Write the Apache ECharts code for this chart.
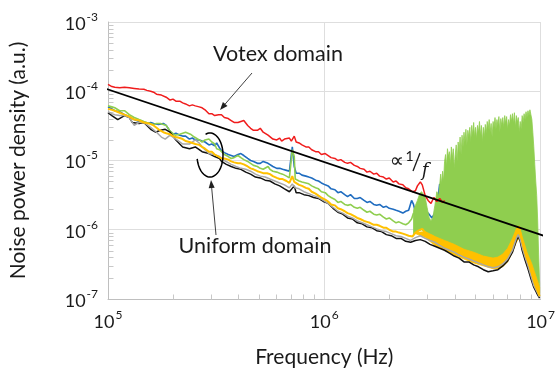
<!DOCTYPE html>
<html>
<head>
<meta charset="utf-8">
<script src="https://cdn.jsdelivr.net/npm/echarts@6.0.0/dist/echarts.min.js"></script>
<style>html,body{margin:0;padding:0;background:#fff}#c{width:558px;height:373px}</style>
</head>
<body>
<div id="c"></div>
<script>
// ---------- data ----------
const red = [[1.0e5,1.26e-4],[1.042e5,1.17e-4],[1.075e5,1.14e-4],[1.132e5,1.12e-4],[1.192e5,1.14e-4],[1.255e5,1.12e-4],[1.322e5,1.10e-4],[1.392e5,1.08e-4],[1.465e5,1.07e-4],[1.512e5,1.03e-4],[1.575e5,1.0e-4],[1.625e5,9.7e-5],[1.676e5,9.08e-5],[1.711e5,9.08e-5],[1.765e5,8.8e-5],[1.802e5,8.8e-5],[1.858e5,8.2e-5],[1.936e5,7.46e-5],[1.997e5,7.7e-5],[2.060e5,7.2e-5],[2.147e5,7.2e-5],[2.214e5,6.8e-5],[2.284e5,6.56e-5],[2.380e5,6.15e-5],[2.455e5,6.35e-5],[2.533e5,6.15e-5],[2.640e5,5.95e-5],[2.723e5,5.77e-5],[2.809e5,5.4e-5],[2.928e5,4.74e-5],[3.019e5,4.74e-5],[3.114e5,4.45e-5],[3.245e5,4.59e-5],[3.347e5,4.59e-5],[3.452e5,4.17e-5],[3.598e5,4.03e-5],[3.711e5,3.78e-5],[3.828e5,3.54e-5],[3.989e5,3.54e-5],[4.115e5,3.66e-5],[4.245e5,3.78e-5],[4.424e5,3.21e-5],[4.563e5,2.92e-5],[4.707e5,2.73e-5],[4.905e5,2.73e-5],[5.058e5,2.92e-5],[5.217e5,2.56e-5],[5.326e5,2.65e-5],[5.494e5,2.32e-5],[5.609e5,2.40e-5],[5.786e5,2.04e-5],[6.030e5,1.98e-5],[6.220e5,2.11e-5],[6.350e5,1.91e-5],[6.548e5,2.04e-5],[6.687e5,1.98e-5],[6.897e5,2.11e-5],[7.041e5,1.91e-5],[7.263e5,2.25e-5],[7.413e5,1.85e-5],[7.646e5,1.79e-5],[7.886e5,1.68e-5],[8.220e5,1.57e-5],[8.479e5,1.57e-5],[8.745e5,1.43e-5],[9.114e5,1.34e-5],[9.400e5,1.34e-5],[9.694e5,1.22e-5],[1.010e6,1.26e-5],[1.042e6,1.18e-5],[1.075e6,1.10e-5],[1.120e6,1.07e-5],[1.156e6,1.0e-5],[1.192e6,1.03e-5],[1.243e6,9.4e-6],[1.281e6,9.1e-6],[1.322e6,9.4e-6],[1.377e6,8.5e-6],[1.421e6,8.2e-6],[1.465e6,7.7e-6],[1.527e6,7.46e-6],[1.575e6,6.8e-6],[1.625e6,7.0e-6],[1.693e6,6.35e-6],[1.747e6,6.56e-6],[1.802e6,5.95e-6],[1.877e6,5.77e-6],[1.936e6,5.4e-6],[1.997e6,5.6e-6],[2.082e6,4.9e-6],[2.147e6,5.06e-6],[2.214e6,4.6e-6],[2.308e6,4.45e-6],[2.380e6,4.03e-6],[2.455e6,3.9e-6],[2.559e6,3.54e-6],[2.639e6,3.66e-6],[2.695e6,4.3e-6],[2.780e6,4.9e-6],[2.838e6,4.45e-6],[2.928e6,3.11e-6],[3.019e6,2.65e-6],[3.114e6,2.40e-6],[3.211e6,2.92e-6],[3.313e6,2.56e-6],[3.417e6,2.83e-6],[3.524e6,2.48e-6],[3.598e6,2.65e-6]];

const blue = [[1.0e5,5.95e-5],[1.042e5,5.57e-5],[1.075e5,5.23e-5],[1.132e5,5.06e-5],[1.192e5,4.59e-5],[1.255e5,4.31e-5],[1.322e5,3.9e-5],[1.392e5,3.66e-5],[1.465e5,3.54e-5],[1.512e5,3.43e-5],[1.575e5,3.54e-5],[1.625e5,3.43e-5],[1.711e5,3.32e-5],[1.802e5,3.43e-5],[1.858e5,3.21e-5],[1.936e5,2.65e-5],[1.997e5,2.40e-5],[2.060e5,2.48e-5],[2.147e5,2.32e-5],[2.214e5,2.25e-5],[2.284e5,2.25e-5],[2.380e5,2.04e-5],[2.455e5,2.11e-5],[2.533e5,1.98e-5],[2.640e5,1.98e-5],[2.723e5,1.91e-5],[2.809e5,1.85e-5],[2.928e5,1.68e-5],[3.019e5,1.73e-5],[3.114e5,1.63e-5],[3.179e5,1.79e-5],[3.279e5,1.52e-5],[3.347e5,1.38e-5],[3.452e5,1.30e-5],[3.598e5,1.22e-5],[3.711e5,1.18e-5],[3.828e5,1.14e-5],[3.989e5,1.22e-5],[4.115e5,1.26e-5],[4.245e5,1.18e-5],[4.424e5,1.07e-5],[4.563e5,1.0e-5],[4.707e5,9.7e-6],[4.905e5,9.1e-6],[5.058e5,9.1e-6],[5.217e5,9.7e-6],[5.326e5,1.0e-5],[5.494e5,9.1e-6],[5.609e5,8.8e-6],[5.786e5,8.2e-6],[6.030e5,7.7e-6],[6.220e5,7.7e-6],[6.416e5,7.46e-6],[6.687e5,7.2e-6],[6.897e5,7.0e-6],[7.041e5,6.8e-6],[7.114e5,1.57e-5],[7.263e5,8.2e-6],[7.413e5,6.56e-6],[7.646e5,6.56e-6],[7.886e5,6.15e-6],[8.220e5,5.95e-6],[8.479e5,5.77e-6],[8.745e5,5.6e-6],[9.114e5,5.2e-6],[9.400e5,5.06e-6],[9.694e5,4.74e-6],[1.010e6,4.45e-6],[1.042e6,4.3e-6],[1.075e6,3.9e-6],[1.120e6,3.78e-6],[1.156e6,3.43e-6],[1.192e6,3.54e-6],[1.243e6,3.21e-6],[1.281e6,3.01e-6],[1.322e6,3.21e-6],[1.377e6,2.83e-6],[1.421e6,2.83e-6],[1.465e6,2.92e-6],[1.527e6,2.65e-6],[1.575e6,2.48e-6],[1.625e6,2.56e-6],[1.693e6,2.32e-6],[1.747e6,2.25e-6],[1.802e6,2.32e-6],[1.877e6,2.11e-6],[1.936e6,2.18e-6],[1.997e6,2.04e-6],[2.082e6,1.98e-6],[2.147e6,1.91e-6],[2.214e6,1.85e-6],[2.308e6,1.74e-6],[2.380e6,1.85e-6],[2.455e6,1.91e-6],[2.533e6,2.65e-6],[2.585e6,2.32e-6],[2.639e6,1.79e-6],[2.723e6,1.68e-6],[2.838e6,1.63e-6],[2.928e6,1.85e-6],[3.019e6,1.74e-6],[3.145e6,1.48e-6],[3.245e6,1.74e-6],[3.313e6,2.11e-6],[3.417e6,4.6e-6]];

const green = [[1.0e5,6.15e-5],[1.042e5,5.95e-5],[1.075e5,5.77e-5],[1.132e5,5.23e-5],[1.192e5,5.23e-5],[1.217e5,5.06e-5],[1.255e5,4.59e-5],[1.281e5,4.45e-5],[1.322e5,4.17e-5],[1.392e5,3.9e-5],[1.465e5,3.66e-5],[1.512e5,3.54e-5],[1.575e5,3.43e-5],[1.625e5,3.32e-5],[1.676e5,3.43e-5],[1.747e5,3.43e-5],[1.802e5,3.32e-5],[1.858e5,3.21e-5],[1.936e5,2.65e-5],[2.039e5,2.32e-5],[2.147e5,2.40e-5],[2.284e5,2.56e-5],[2.405e5,2.40e-5],[2.507e5,2.18e-5],[2.640e5,1.98e-5],[2.723e5,1.85e-5],[2.809e5,1.98e-5],[2.928e5,2.04e-5],[3.019e5,1.85e-5],[3.114e5,1.73e-5],[3.179e5,1.48e-5],[3.279e5,1.43e-5],[3.347e5,1.48e-5],[3.452e5,1.22e-5],[3.598e5,1.14e-5],[3.711e5,1.07e-5],[3.828e5,1.10e-5],[3.989e5,1.18e-5],[4.115e5,1.10e-5],[4.245e5,1.03e-5],[4.424e5,9.7e-6],[4.563e5,9.1e-6],[4.707e5,8.5e-6],[4.905e5,8.2e-6],[5.058e5,7.7e-6],[5.217e5,7.46e-6],[5.326e5,7.96e-6],[5.494e5,8.2e-6],[5.609e5,7.46e-6],[5.786e5,7.0e-6],[6.030e5,6.8e-6],[6.220e5,6.56e-6],[6.416e5,6.35e-6],[6.687e5,5.95e-6],[6.897e5,5.6e-6],[7.041e5,5.4e-6],[7.114e5,1.43e-5],[7.263e5,1.14e-5],[7.339e5,5.4e-6],[7.646e5,5.06e-6],[7.886e5,4.9e-6],[8.220e5,4.74e-6],[8.479e5,4.6e-6],[8.745e5,4.3e-6],[9.114e5,4.03e-6],[9.400e5,3.9e-6],[9.694e5,3.54e-6],[1.010e6,3.43e-6],[1.042e6,3.11e-6],[1.075e6,2.92e-6],[1.120e6,2.73e-6],[1.156e6,2.48e-6],[1.192e6,2.56e-6],[1.243e6,2.32e-6],[1.281e6,2.25e-6],[1.322e6,2.32e-6],[1.377e6,2.11e-6],[1.421e6,2.04e-6],[1.465e6,2.11e-6],[1.527e6,1.91e-6],[1.575e6,1.79e-6],[1.625e6,1.85e-6],[1.693e6,1.68e-6],[1.747e6,1.63e-6],[1.802e6,1.68e-6],[1.877e6,1.52e-6],[1.936e6,1.43e-6],[1.997e6,1.48e-6],[2.082e6,1.34e-6],[2.147e6,1.26e-6],[2.214e6,1.30e-6],[2.308e6,1.22e-6],[2.380e6,1.18e-6],[2.455e6,1.26e-6],[2.533e6,1.43e-6],[2.585e6,1.74e-6]];

// green dense spiky band (upper and lower envelope of the oscillation)
const greenSpikeF = [2.585e6,2.639e6,2.695e6,2.752e6,2.809e6,2.868e6,2.928e6,2.987e6,3.050e6,3.114e6,3.179e6,3.245e6,3.313e6,3.382e6,3.452e6,3.488e6,3.524e6,3.561e6,3.598e6,3.636e6,3.673e6,3.711e6,3.750e6,3.789e6,3.828e6,3.868e6,3.908e6,3.948e6,3.989e6,4.031e6,4.073e6,4.115e6,4.158e6,4.202e6,4.245e6,4.289e6,4.334e6,4.379e6,4.424e6,4.470e6,4.516e6,4.563e6,4.610e6,4.659e6,4.707e6,4.755e6,4.805e6,4.855e6,4.905e6,4.955e6,5.006e6,5.058e6,5.110e6,5.164e6,5.217e6,5.272e6,5.326e6,5.381e6,5.437e6,5.494e6,5.551e6,5.609e6,5.667e6,5.725e6,5.786e6,5.846e6,5.906e6,5.968e6,6.030e6,6.092e6,6.156e6,6.220e6,6.283e6,6.350e6,6.416e6,6.481e6,6.548e6,6.617e6,6.687e6,6.756e6,6.827e6,6.897e6,6.966e6,7.041e6,7.114e6,7.187e6,7.262e6,7.339e6,7.413e6,7.490e6,7.568e6,7.647e6,7.727e6,7.806e6,7.886e6,7.968e6,8.050e6,8.135e6,8.220e6,8.304e6,8.389e6,8.477e6,8.565e6,8.652e6,8.745e6,8.836e6,8.926e6,9.020e6,9.114e6,9.207e6,9.303e6,9.400e6,9.497e6,9.596e6,9.694e6,9.795e6,9.897e6];
const greenSpikeHigh = [1.91e-6,2.25e-6,2.65e-6,3.21e-6,3.54e-6,3.32e-6,2.92e-6,2.11e-6,1.52e-6,1.34e-6,1.52e-6,2.25e-6,3.54e-6,3.11e-6,6.35e-6,4.6e-6,7.0e-6,5.06e-6,9.7e-6,1.22e-5,8.2e-6,1.48e-5,1.14e-5,1.34e-5,8.8e-6,1.57e-5,1.07e-5,1.48e-5,7.7e-6,1.22e-5,1.68e-5,9.7e-6,1.85e-5,1.34e-5,2.18e-5,1.22e-5,2.32e-5,1.57e-5,2.56e-5,1.85e-5,2.82e-5,1.68e-5,2.73e-5,2.18e-5,3.01e-5,1.85e-5,3.21e-5,2.32e-5,3.54e-5,2.18e-5,3.01e-5,2.04e-5,3.21e-5,2.56e-5,3.66e-5,2.32e-5,3.21e-5,1.85e-5,3.01e-5,2.18e-5,3.32e-5,2.48e-5,3.66e-5,2.82e-5,3.9e-5,2.56e-5,3.43e-5,2.18e-5,3.66e-5,3.01e-5,4.17e-5,2.82e-5,3.9e-5,3.21e-5,4.31e-5,2.56e-5,4.03e-5,3.21e-5,4.17e-5,3.01e-5,4.45e-5,3.43e-5,4.31e-5,2.82e-5,3.9e-5,3.21e-5,4.59e-5,3.66e-5,4.74e-5,3.43e-5,4.9e-5,3.01e-5,4.45e-5,3.54e-5,4.17e-5,2.56e-5,3.66e-5,2.82e-5,4.45e-5,3.54e-5,4.74e-5,3.9e-5,5.06e-5,4.17e-5,5.23e-5,4.45e-5,5.4e-5,4.59e-5,3.9e-5,2.56e-5,1.57e-5,8.8e-6,5.06e-6,3.11e-6,1.38e-6,4.45e-7,1.68e-7];
const greenSpikeLow = [8.2e-7,8.8e-7,9.4e-7,9.7e-7,1.0e-6,9.7e-7,8.8e-7,8.5e-7,8.2e-7,8.0e-7,7.7e-7,7.5e-7,7.2e-7,7.0e-7,6.8e-7,6.8e-7,6.6e-7,6.6e-7,6.35e-7,6.15e-7,6.15e-7,6.15e-7,5.95e-7,5.95e-7,5.77e-7,5.77e-7,5.57e-7,5.57e-7,5.4e-7,5.4e-7,5.23e-7,5.23e-7,5.06e-7,5.06e-7,4.9e-7,4.9e-7,4.74e-7,4.74e-7,4.74e-7,4.59e-7,4.59e-7,4.45e-7,4.45e-7,4.31e-7,4.31e-7,4.17e-7,4.17e-7,4.17e-7,4.03e-7,4.03e-7,4.03e-7,3.9e-7,3.9e-7,3.78e-7,3.78e-7,3.66e-7,3.66e-7,3.66e-7,3.54e-7,3.54e-7,3.54e-7,3.43e-7,3.43e-7,3.43e-7,3.32e-7,3.32e-7,3.32e-7,3.32e-7,3.21e-7,3.21e-7,3.21e-7,3.21e-7,3.21e-7,3.32e-7,3.43e-7,3.54e-7,3.66e-7,3.78e-7,3.9e-7,4.03e-7,4.17e-7,4.31e-7,4.45e-7,4.74e-7,5.06e-7,5.4e-7,5.95e-7,6.6e-7,7.2e-7,8.0e-7,8.5e-7,8.5e-7,8.5e-7,8.5e-7,8.5e-7,8.5e-7,8.2e-7,8.0e-7,7.5e-7,6.8e-7,5.95e-7,5.23e-7,4.59e-7,4.17e-7,3.78e-7,3.43e-7,3.11e-7,2.82e-7,2.56e-7,2.32e-7,2.11e-7,1.91e-7,1.73e-7,1.57e-7,1.43e-7,1.34e-7,1.22e-7];

const yellow = [[1.0e5,5.57e-5],[1.042e5,5.4e-5],[1.075e5,5.23e-5],[1.132e5,4.9e-5],[1.192e5,4.59e-5],[1.255e5,4.31e-5],[1.322e5,3.9e-5],[1.392e5,3.78e-5],[1.465e5,3.54e-5],[1.543e5,3.43e-5],[1.625e5,3.21e-5],[1.711e5,2.82e-5],[1.802e5,2.56e-5],[1.858e5,2.48e-5],[1.936e5,2.40e-5],[1.997e5,2.25e-5],[2.060e5,2.18e-5],[2.147e5,2.11e-5],[2.214e5,2.04e-5],[2.284e5,1.91e-5],[2.380e5,1.85e-5],[2.455e5,1.79e-5],[2.533e5,1.73e-5],[2.640e5,1.68e-5],[2.723e5,1.57e-5],[2.809e5,1.48e-5],[2.928e5,1.34e-5],[3.019e5,1.34e-5],[3.114e5,1.22e-5],[3.245e5,1.14e-5],[3.347e5,1.07e-5],[3.452e5,1.07e-5],[3.598e5,1.03e-5],[3.711e5,9.7e-6],[3.828e5,9.4e-6],[3.989e5,9.1e-6],[4.115e5,9.1e-6],[4.245e5,8.8e-6],[4.424e5,8.2e-6],[4.563e5,7.7e-6],[4.707e5,7.46e-6],[4.905e5,7.0e-6],[5.058e5,6.8e-6],[5.217e5,6.56e-6],[5.438e5,6.56e-6],[5.609e5,6.35e-6],[5.786e5,5.95e-6],[6.030e5,5.6e-6],[6.220e5,5.4e-6],[6.416e5,5.4e-6],[6.687e5,5.06e-6],[6.897e5,4.74e-6],[7.041e5,4.6e-6],[7.114e5,5.95e-6],[7.263e5,4.9e-6],[7.413e5,4.6e-6],[7.646e5,4.45e-6],[7.886e5,4.3e-6],[8.220e5,4.03e-6],[8.479e5,3.9e-6],[8.745e5,3.54e-6],[9.114e5,3.32e-6],[9.400e5,3.11e-6],[9.694e5,2.92e-6],[1.010e6,2.73e-6],[1.042e6,2.56e-6],[1.075e6,2.32e-6],[1.120e6,2.25e-6],[1.156e6,2.04e-6],[1.192e6,1.98e-6],[1.243e6,1.85e-6],[1.281e6,1.74e-6],[1.322e6,1.68e-6],[1.377e6,1.57e-6],[1.421e6,1.48e-6],[1.465e6,1.43e-6],[1.527e6,1.34e-6],[1.575e6,1.30e-6],[1.625e6,1.26e-6],[1.693e6,1.18e-6],[1.747e6,1.18e-6],[1.802e6,1.14e-6],[1.877e6,1.07e-6],[1.936e6,1.07e-6],[1.997e6,1.0e-6],[2.082e6,9.4e-7],[2.147e6,9.4e-7],[2.214e6,9.1e-7],[2.308e6,8.8e-7],[2.380e6,8.5e-7],[2.455e6,8.2e-7],[2.559e6,8.0e-7],[2.639e6,9.1e-7],[2.723e6,9.7e-7],[2.838e6,1.03e-6],[2.928e6,9.1e-7],[3.019e6,8.5e-7],[3.145e6,8.2e-7],[3.245e6,7.7e-7],[3.417e6,7.0e-7],[3.598e6,6.35e-7],[3.711e6,6.6e-7],[3.828e6,5.77e-7],[3.989e6,5.57e-7],[4.202e6,5.06e-7],[4.334e6,5.23e-7],[4.470e6,4.59e-7],[4.610e6,4.74e-7],[4.755e6,4.31e-7],[4.905e6,4.17e-7],[5.058e6,4.31e-7],[5.217e6,3.9e-7],[5.381e6,3.78e-7],[5.551e6,4.03e-7],[5.725e6,3.66e-7],[5.906e6,3.43e-7],[6.092e6,3.54e-7],[6.283e6,3.32e-7],[6.481e6,3.66e-7],[6.687e6,4.03e-7],[6.897e6,4.45e-7],[7.114e6,4.9e-7],[7.339e6,6.15e-7],[7.568e6,7.7e-7],[7.727e6,9.7e-7],[7.886e6,1.10e-6],[8.050e6,9.1e-7],[8.220e6,6.8e-7],[8.389e6,5.23e-7],[8.565e6,4.17e-7],[8.836e6,3.21e-7],[9.114e6,2.32e-7],[9.303e6,1.85e-7],[9.497e6,1.52e-7],[9.694e6,1.30e-7],[9.897e6,1.10e-7]];

// yellow dense noise band at high frequency (upper / lower envelope)
const yellowBandF = [2.639e6,2.928e6,3.245e6,3.598e6,3.989e6,4.424e6,4.905e6,5.437e6,6.030e6,6.350e6,6.687e6,7.041e6,7.413e6,7.727e6,7.968e6,8.220e6,8.652e6,9.114e6,9.497e6,9.897e6];
const yellowBandHigh = [9.1e-7,9.4e-7,8.0e-7,7.0e-7,6.15e-7,5.23e-7,4.74e-7,4.17e-7,3.9e-7,4.03e-7,4.45e-7,5.4e-7,7.5e-7,1.03e-6,1.14e-6,8.0e-7,4.74e-7,3.21e-7,2.18e-7,1.48e-7];
const yellowBandLow = [8.8e-7,7.7e-7,5.95e-7,5.06e-7,4.31e-7,3.78e-7,3.32e-7,3.01e-7,2.73e-7,2.73e-7,2.92e-7,3.43e-7,4.74e-7,6.6e-7,7.7e-7,5.23e-7,3.01e-7,1.98e-7,1.38e-7,1.07e-7];

const gray = [[1.0e5,5.06e-5],[1.042e5,4.74e-5],[1.075e5,4.59e-5],[1.132e5,4.45e-5],[1.192e5,4.45e-5],[1.255e5,4.17e-5],[1.322e5,3.21e-5],[1.392e5,3.54e-5],[1.465e5,3.54e-5],[1.575e5,3.01e-5],[1.676e5,2.56e-5],[1.765e5,2.18e-5],[1.839e5,2.04e-5],[1.936e5,2.32e-5],[2.060e5,2.04e-5],[2.214e5,1.73e-5],[2.380e5,1.73e-5],[2.533e5,1.98e-5],[2.640e5,1.79e-5],[2.723e5,1.57e-5],[2.928e5,1.26e-5],[3.082e5,1.22e-5],[3.279e5,1.14e-5],[3.452e5,1.0e-5],[3.711e5,8.8e-6],[3.908e5,8.2e-6],[4.115e5,7.7e-6],[4.334e5,7.46e-6],[4.563e5,7.0e-6],[4.805e5,6.35e-6],[5.058e5,5.95e-6],[5.326e5,5.77e-6],[5.609e5,5.4e-6],[5.906e5,5.06e-6],[6.220e5,4.74e-6],[6.548e5,4.45e-6],[6.897e5,4.03e-6],[7.114e5,4.6e-6],[7.339e5,4.03e-6],[7.646e5,3.9e-6],[8.050e5,3.54e-6],[8.479e5,3.32e-6],[8.926e5,3.11e-6],[9.400e5,2.92e-6],[9.897e5,2.65e-6],[1.042e6,2.40e-6],[1.098e6,2.11e-6],[1.156e6,1.85e-6],[1.217e6,1.74e-6],[1.281e6,1.57e-6],[1.349e6,1.48e-6],[1.421e6,1.34e-6],[1.496e6,1.26e-6],[1.575e6,1.18e-6],[1.659e6,1.10e-6],[1.747e6,1.03e-6],[1.839e6,9.7e-7],[1.936e6,9.4e-7],[2.039e6,8.8e-7],[2.147e6,8.2e-7],[2.261e6,8.0e-7],[2.380e6,7.5e-7],[2.507e6,7.0e-7],[2.639e6,7.7e-7],[2.780e6,8.2e-7],[2.928e6,7.5e-7],[3.082e6,7.0e-7],[3.245e6,6.6e-7],[3.417e6,5.95e-7],[3.598e6,5.4e-7],[3.789e6,5.06e-7],[3.989e6,4.74e-7],[4.202e6,4.31e-7],[4.424e6,4.03e-7],[4.659e6,3.78e-7],[4.905e6,3.54e-7],[5.164e6,3.32e-7],[5.437e6,3.11e-7],[5.725e6,2.92e-7],[6.030e6,2.82e-7],[6.350e6,2.92e-7],[6.687e6,3.21e-7],[7.041e6,3.78e-7],[7.413e6,5.06e-7],[7.727e6,7.5e-7],[7.886e6,8.5e-7],[8.050e6,7.2e-7],[8.220e6,5.57e-7],[8.477e6,4.03e-7],[8.745e6,3.01e-7],[9.020e6,2.18e-7],[9.303e6,1.57e-7],[9.596e6,1.30e-7],[9.897e6,1.07e-7]];

const black = [[1.0e5,4.9e-5],[1.042e5,4.45e-5],[1.109e5,3.9e-5],[1.192e5,4.45e-5],[1.255e5,4.17e-5],[1.295e5,3.54e-5],[1.392e5,3.43e-5],[1.465e5,3.54e-5],[1.575e5,2.82e-5],[1.659e5,2.56e-5],[1.747e5,2.73e-5],[1.839e5,2.82e-5],[1.936e5,2.56e-5],[2.060e5,1.98e-5],[2.214e5,1.57e-5],[2.380e5,1.48e-5],[2.533e5,1.57e-5],[2.723e5,1.34e-5],[2.928e5,1.26e-5],[3.114e5,1.14e-5],[3.279e5,1.07e-5],[3.347e5,9.7e-6],[3.524e5,8.8e-6],[3.711e5,8.2e-6],[3.908e5,7.7e-6],[4.115e5,7.46e-6],[4.334e5,6.8e-6],[4.563e5,6.35e-6],[4.805e5,5.77e-6],[5.058e5,5.6e-6],[5.326e5,5.2e-6],[5.609e5,5.06e-6],[5.906e5,4.6e-6],[6.220e5,4.3e-6],[6.548e5,3.9e-6],[6.897e5,3.54e-6],[7.041e5,3.43e-6],[7.263e5,4.3e-6],[7.413e5,3.43e-6],[7.646e5,3.43e-6],[8.050e5,3.21e-6],[8.479e5,3.11e-6],[8.926e5,2.92e-6],[9.400e5,2.83e-6],[9.897e5,2.56e-6],[1.042e6,2.40e-6],[1.098e6,2.04e-6],[1.156e6,1.79e-6],[1.217e6,1.68e-6],[1.281e6,1.48e-6],[1.349e6,1.43e-6],[1.421e6,1.26e-6],[1.496e6,1.22e-6],[1.575e6,1.10e-6],[1.659e6,1.07e-6],[1.747e6,9.7e-7],[1.839e6,9.4e-7],[1.936e6,8.5e-7],[2.039e6,8.2e-7],[2.147e6,7.5e-7],[2.261e6,7.5e-7],[2.380e6,6.8e-7],[2.507e6,6.6e-7],[2.639e6,7.0e-7],[2.780e6,7.2e-7],[2.928e6,6.8e-7],[3.082e6,6.15e-7],[3.245e6,5.77e-7],[3.417e6,5.4e-7],[3.598e6,5.06e-7],[3.789e6,4.59e-7],[3.989e6,4.17e-7],[4.202e6,3.9e-7],[4.424e6,3.43e-7],[4.659e6,3.43e-7],[4.905e6,3.11e-7],[5.164e6,2.92e-7],[5.437e6,2.65e-7],[5.725e6,2.48e-7],[6.030e6,2.56e-7],[6.350e6,2.65e-7],[6.687e6,3.01e-7],[7.041e6,3.54e-7],[7.413e6,4.74e-7],[7.727e6,7.0e-7],[7.886e6,8.0e-7],[8.050e6,6.8e-7],[8.220e6,5.06e-7],[8.477e6,3.66e-7],[8.745e6,2.73e-7],[9.020e6,1.98e-7],[9.303e6,1.48e-7],[9.596e6,1.22e-7],[9.897e6,1.03e-7]];

// 1/f guide line end points
const oneOverF = [[9.1e4,1.17e-4],[1.06e7,8.0e-7]];

// axis ticks
const xMinorTicks = [2e5,3e5,4e5,5e5,6e5,7e5,8e5,9e5,2e6,3e6,4e6,5e6,6e6,7e6,8e6,9e6];
const yMinorTicks = [2e-7,3e-7,4e-7,5e-7,6e-7,7e-7,8e-7,9e-7,2e-6,3e-6,4e-6,5e-6,6e-6,7e-6,8e-6,9e-6,2e-5,3e-5,4e-5,5e-5,6e-5,7e-5,8e-5,9e-5,2e-4,3e-4,4e-4,5e-4,6e-4,7e-4,8e-4,9e-4];

// ---------- chart ----------
const FONT = 'Lato, "Noto Sans", sans-serif';
const TXT = '#1a1a1a';
const GREEN = '#8fce4f';
const YELLOW = '#ffc000';
const chart = echarts.init(document.getElementById('c'), null, {renderer: 'canvas'});

function supLabel(v) {
  const e = Math.round(Math.log10(v));
  return '{b|10}{s|' + e + '}';
}
const labelRich = {
  b: {fontSize: 18, fontFamily: FONT, color: TXT, verticalAlign: 'bottom', lineHeight: 22},
  s: {fontSize: 12, fontFamily: FONT, color: TXT, verticalAlign: 'top', lineHeight: 22, padding: [0, 0, 0, 1]}
};

function tickSeries(data, horizontal) {
  return {
    type: 'custom', silent: true, animation: false, z: 1,
    data: data,
    renderItem: function (params, api) {
      const p = api.coord([api.value(0), api.value(1)]);
      const x = Math.round(p[0]) + 0.5, y = Math.round(p[1]) + 0.5;
      return {
        type: 'line',
        shape: horizontal ? {x1: x, y1: y, x2: x + 5, y2: y} : {x1: x, y1: y, x2: x, y2: y - 5},
        style: {stroke: '#c8c8c8', lineWidth: 1}
      };
    }
  };
}

// band between an upper and a lower envelope, drawn through the axes' scales
function bandSeries(name, fArr, hiArr, loArr, color, z) {
  return {
    type: 'custom', name: name, silent: true, animation: false, z: z,
    data: fArr.map((f, i) => [f, hiArr[i], loArr[i]]),
    encode: {x: 0, y: [1, 2]},
    renderItem: function (params, api) {
      if (params.dataIndex !== 0) return null;
      const top = [], bot = [];
      for (let i = 0; i < fArr.length; i++) {
        top.push(api.coord([fArr[i], hiArr[i]]));
        bot.push(api.coord([fArr[i], loArr[i]]));
      }
      return {
        type: 'polygon',
        shape: {points: top.concat(bot.reverse())},
        style: {fill: color, stroke: color, lineWidth: 0.8}
      };
    }
  };
}

// ellipse arc annotation (open on the upper-left)
const ellipsePts = [];
for (let a = -110; a <= 170; a += 5) {
  const t = a * Math.PI / 180;
  ellipsePts.push([210 + 13 * Math.cos(t), 155 + 22 * Math.sin(t)]);
}

const lineBase = {type: 'line', showSymbol: false, symbol: 'none', animation: false, silent: true};
const annoText = (txt, x, y) => ({type: 'text', x: x, y: y, z: 20, style: {text: txt, font: '21.5px ' + FONT, fill: TXT, align: 'center', verticalAlign: 'middle', textAlign: 'center', textVerticalAlign: 'middle'}});

chart.setOption({
  backgroundColor: '#ffffff',
  animation: false,
  grid: {left: 103, right: 10, top: 22, bottom: 67, containLabel: false},
  xAxis: {
    type: 'log', logBase: 10, min: 1e5, max: 1e7,
    name: 'Frequency (Hz)', nameLocation: 'middle', nameGap: 48,
    nameTextStyle: {fontSize: 21, fontFamily: FONT, color: TXT},
    axisLine: {show: true, lineStyle: {color: '#bfbfbf', width: 1}},
    axisTick: {show: false},
    splitLine: {show: true, lineStyle: {color: '#dedede', width: 1}},
    minorTick: {show: false}, minorSplitLine: {show: false},
    axisLabel: {margin: 10, formatter: supLabel, rich: labelRich}
  },
  yAxis: {
    type: 'log', logBase: 10, min: 1e-7, max: 1e-3,
    name: 'Noise power density (a.u.)', nameLocation: 'middle', nameGap: 79, nameRotate: 90,
    nameTextStyle: {fontSize: 21, fontFamily: FONT, color: TXT},
    axisLine: {show: true, lineStyle: {color: '#bfbfbf', width: 1}},
    axisTick: {show: false},
    splitLine: {show: true, lineStyle: {color: '#dedede', width: 1}},
    minorTick: {show: false}, minorSplitLine: {show: false},
    axisLabel: {margin: 10, formatter: supLabel, rich: labelRich}
  },
  series: [
    tickSeries(xMinorTicks.map(v => [v, 1e-7]), false),
    tickSeries(yMinorTicks.map(v => [1e5, v]), true),
    Object.assign({}, lineBase, {name: 'blue', data: blue, z: 2, lineStyle: {color: '#1f6cc0', width: 1.6}}),
    Object.assign({}, lineBase, {name: 'green', data: green, z: 3, lineStyle: {color: GREEN, width: 1.6}}),
    bandSeries('greenBand', greenSpikeF, greenSpikeHigh, greenSpikeLow, GREEN, 3),
    bandSeries('yellowBand', yellowBandF, yellowBandHigh, yellowBandLow, YELLOW, 4),
    Object.assign({}, lineBase, {name: 'black', data: black, z: 4, lineStyle: {color: '#111111', width: 1.5}}),
    Object.assign({}, lineBase, {name: 'gray', data: gray, z: 4, lineStyle: {color: '#a8a8a8', width: 1.5}}),
    Object.assign({}, lineBase, {name: 'yellow', data: yellow, z: 5, lineStyle: {color: YELLOW, width: 2}}),
    Object.assign({}, lineBase, {name: 'red', data: red, z: 6, lineStyle: {color: '#f01c1c', width: 1.5}}),
    Object.assign({}, lineBase, {name: 'oneOverF', data: oneOverF, z: 7, clip: false, lineStyle: {color: '#000000', width: 1.8}})
  ],
  graphic: [
    annoText('Votex domain', 278, 54),
    {type: 'line', z: 20, shape: {x1: 252, y1: 73, x2: 225.2, y2: 104}, style: {stroke: '#404040', lineWidth: 1}},
    {type: 'polygon', z: 20, shape: {points: [[220, 110], [227.5, 106], [222.9, 102.1]]}, style: {fill: '#202020'}},
    annoText('Uniform domain', 255, 246),
    {type: 'line', z: 20, shape: {x1: 216, y1: 235, x2: 211.7, y2: 188}, style: {stroke: '#404040', lineWidth: 1}},
    {type: 'polygon', z: 20, shape: {points: [[211, 180], [214.7, 187.7], [208.7, 188.3]]}, style: {fill: '#202020'}},
    {type: 'polyline', z: 20, shape: {points: ellipsePts}, style: {stroke: '#000000', lineWidth: 1.5, fill: null}},
    {type: 'text', x: 397, y: 162, z: 20, style: {text: '\u221D', font: '20px "DejaVu Sans", sans-serif', fill: TXT, align: 'center', verticalAlign: 'middle', textAlign: 'center', textVerticalAlign: 'middle'}},
    {type: 'text', x: 409.5, y: 156, z: 20, style: {text: '1', font: '14px ' + FONT, fill: TXT, align: 'center', verticalAlign: 'middle', textAlign: 'center', textVerticalAlign: 'middle'}},
    {type: 'line', z: 20, shape: {x1: 420, y1: 153, x2: 413, y2: 171}, style: {stroke: TXT, lineWidth: 1.3}},
    {type: 'text', x: 425, y: 171, z: 20, style: {text: 'f', font: 'italic 18px "DejaVu Serif", serif', fill: TXT, align: 'center', verticalAlign: 'middle', textAlign: 'center', textVerticalAlign: 'middle'}}
  ]
});
</script>
</body>
</html>
